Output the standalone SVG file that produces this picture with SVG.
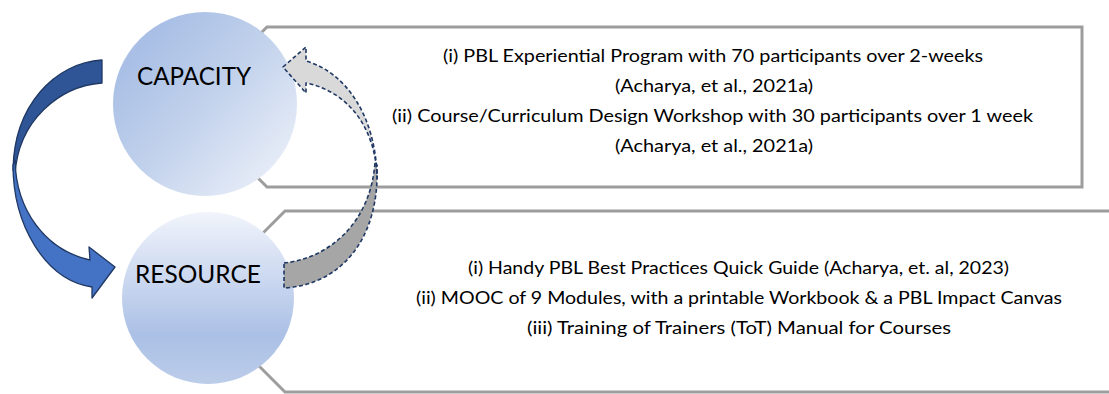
<svg xmlns="http://www.w3.org/2000/svg" width="1109" height="394" viewBox="0 0 1109 394">
  <defs>
    <linearGradient id="gCap" x1="0.15" y1="0.2" x2="0.9" y2="0.9">
      <stop offset="0" stop-color="#a9bfe5"/>
      <stop offset="0.45" stop-color="#c2d2ec"/>
      <stop offset="1" stop-color="#e9eef8"/>
    </linearGradient>
    <linearGradient id="gRes" x1="0" y1="0" x2="0" y2="1">
      <stop offset="0" stop-color="#f1f4fb"/>
      <stop offset="0.72" stop-color="#abc0e6"/>
      <stop offset="1" stop-color="#bccde9"/>
    </linearGradient>
    <style>
      .box { fill: #ffffff; stroke: #9d9d9d; stroke-width: 3; }
      .t { font-family: Lato, "Open Sans", "Liberation Sans", sans-serif; font-size: 18px; fill: #000000; }
      .lbl { font-family: Lato, "Open Sans", "Liberation Sans", sans-serif; font-size: 25px; fill: #000000; }
      .blue { stroke: #1f3864; stroke-width: 1.3; stroke-linejoin: round; }
      .gray { stroke: #1f3864; stroke-width: 1.6; stroke-dasharray: 4 2.5; stroke-linejoin: round; }
    </style>
  </defs>

  <g id="box-capacity">
    <polygon class="box" points="187,107 267,27 1082,27 1082,187 267,187"/>
    <text class="t" x="443" y="62" textLength="540" lengthAdjust="spacingAndGlyphs">(i) PBL Experiential Program with 70 participants over 2-weeks</text>
    <text class="t" x="615" y="92" textLength="198" lengthAdjust="spacingAndGlyphs">(Acharya, et al., 2021a)</text>
    <text class="t" x="392" y="121.5" textLength="641" lengthAdjust="spacingAndGlyphs">(ii) Course/Curriculum Design Workshop with 30 participants over 1 week</text>
    <text class="t" x="615" y="151.5" textLength="198" lengthAdjust="spacingAndGlyphs">(Acharya, et al., 2021a)</text>
  </g>

  <g id="box-resource">
    <polygon class="box" points="194.5,301.5 285,211 1115,211 1115,392 285,392"/>
    <text class="t" x="468" y="273.5" textLength="541" lengthAdjust="spacingAndGlyphs">(i) Handy PBL Best Practices Quick Guide (Acharya, et. al, 2023)</text>
    <text class="t" x="416" y="303.5" textLength="646" lengthAdjust="spacingAndGlyphs">(ii) MOOC of 9 Modules, with a printable Workbook &amp; a PBL Impact Canvas</text>
    <text class="t" x="527" y="333.5" textLength="424" lengthAdjust="spacingAndGlyphs">(iii) Training of Trainers (ToT) Manual for Courses</text>
  </g>

  <g id="node-capacity">
    <circle cx="205" cy="104" r="92" fill="url(#gCap)"/>
    <text class="lbl" x="137" y="85" textLength="114" lengthAdjust="spacingAndGlyphs">CAPACITY</text>
  </g>

  <g id="node-resource">
    <circle cx="208" cy="298" r="86" fill="url(#gRes)"/>
    <text class="lbl" x="135" y="283" textLength="126" lengthAdjust="spacingAndGlyphs">RESOURCE</text>
  </g>

  <g id="connectors">
    <g id="arrow-capacity-to-resource">
      <path class="blue" fill="#2f5597" d="M102,60 C55,63 14,105 13,170 L15,175 C18,120 60,86 102,83 Z"/>
      <path class="blue" fill="#4472c4" d="M13,165 C13,225 45,280 92,287 L92,298 L115,267 L89,247 L90,260 C45,250 16,210 15,160 Z"/>
    </g>
    <g id="arrow-resource-to-capacity">
      <path class="gray" fill="#a6a6a6" d="M284,263 C330,258 371,222 375,162 L377,165 C380,240 340,285 284,288 Z"/>
      <path class="gray" fill="#d9d9d9" d="M283,67 L306,47 L306,61 C345,72 376,115 377,178 C376,130 350,92 306,83 L306,93 Z"/>
    </g>
  </g>
</svg>
